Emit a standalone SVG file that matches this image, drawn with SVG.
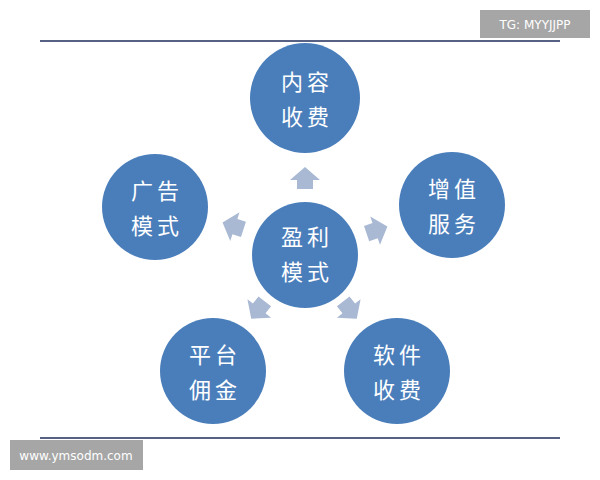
<svg xmlns="http://www.w3.org/2000/svg" width="600" height="480" viewBox="0 0 600 480">
<defs>
<style>
.n{fill:#4a7ebb}
.t{font-family:"Noto Sans CJK SC",sans-serif;font-size:22px;fill:#fff;text-anchor:middle;letter-spacing:4px}
.a{fill:#a9b9d3}
.w{font-family:"DejaVu Sans",sans-serif;font-size:12px;fill:#fff}
</style>
<polygon id="ar" points="-15,2 0,-11 15,2 8,2 8,11 -8,11 -8,2"/>
</defs>
<rect width="600" height="480" fill="#fff"/>
<line x1="40" y1="41" x2="560" y2="41" stroke="#1f2d5a" stroke-width="1.5"/>
<line x1="40" y1="438" x2="560" y2="438" stroke="#1f2d5a" stroke-width="1.5"/>
<rect x="480" y="10" width="110" height="28" fill="#a6a6a6"/>
<text class="w" x="535" y="29" text-anchor="middle">TG: MYYJJPP</text>
<g id="connectors" class="a">
<use href="#ar" transform="translate(305,178)"/>
<use href="#ar" transform="translate(233,226) rotate(-72)"/>
<use href="#ar" transform="translate(377,230) rotate(71)"/>
<use href="#ar" transform="translate(258,310) rotate(218)"/>
<use href="#ar" transform="translate(350,310) rotate(142)"/>
</g>
<g id="center"><circle class="n" cx="305" cy="255" r="53"/><text class="t" x="307" y="245">盈利</text><text class="t" x="307" y="280">模式</text></g>
<g id="top"><circle class="n" cx="305" cy="98" r="55"/><text class="t" x="307" y="90">内容</text><text class="t" x="307" y="125">收费</text></g>
<g id="left"><circle class="n" cx="155" cy="207" r="53"/><text class="t" x="157" y="199">广告</text><text class="t" x="157" y="234">模式</text></g>
<g id="right"><circle class="n" cx="452" cy="205" r="53"/><text class="t" x="454" y="197">增值</text><text class="t" x="454" y="232">服务</text></g>
<g id="bl"><circle class="n" cx="213" cy="371" r="53"/><text class="t" x="215" y="363">平台</text><text class="t" x="215" y="398">佣金</text></g>
<g id="br"><circle class="n" cx="397" cy="371" r="53"/><text class="t" x="399" y="363">软件</text><text class="t" x="399" y="398">收费</text></g>
<rect x="10" y="440" width="133" height="30" fill="#a6a6a6"/>
<text class="w" x="76" y="460" text-anchor="middle">www.ymsodm.com</text>
</svg>
